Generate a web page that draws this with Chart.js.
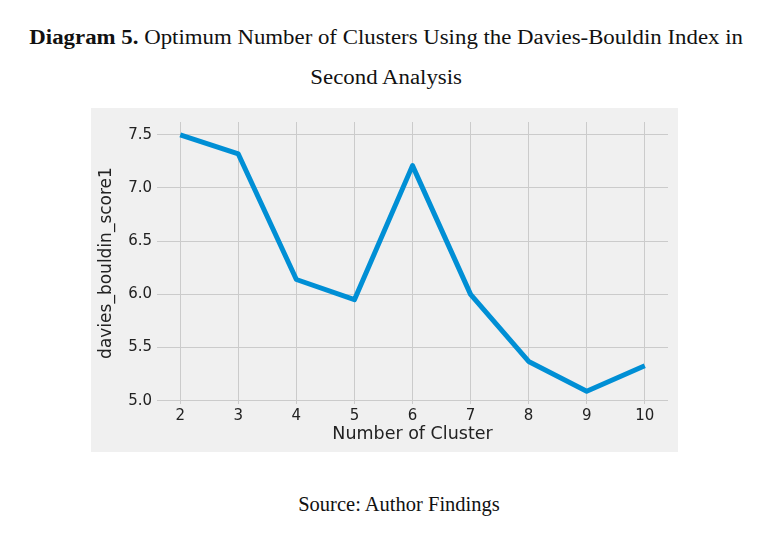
<!DOCTYPE html>
<html>
<head>
<meta charset="utf-8">
<script src="https://cdn.jsdelivr.net/npm/chart.js@4.4.0/dist/chart.umd.min.js"></script>
<style>
  body { margin: 0; background: #fff; width: 781px; height: 548px; position: relative; overflow: hidden; }
  .caption { position: absolute; left: 0; width: 781px; text-align: center; font-family: "Liberation Serif", "Times New Roman", serif; font-size: 20.5px; color: #111; white-space: nowrap; }
  .wide { transform: scaleX(1.114); transform-origin: 385px 0; left: -5.5px; }
  #panel { position: absolute; left: 91px; top: 108px; width: 587px; height: 344px; background: #f0f0f0; }
</style>
</head>
<body>
<div class="caption wide" style="top: 26px;"><b>Diagram 5.</b> Optimum Number of Clusters Using the Davies-Bouldin Index in</div>
<div class="caption wide" style="top: 66px;">Second Analysis</div>
<div id="panel"><canvas id="db-chart"></canvas></div>
<div class="caption" style="top: 493px; left: 8.5px;">Source: Author Findings</div>

<script>
// Davies-Bouldin score for each number of clusters
const clusters = [2, 3, 4, 5, 6, 7, 8, 9, 10];
const dbScores = [7.50, 7.32, 6.14, 5.95, 7.21, 6.00, 5.37, 5.09, 5.33];
const yTicks = [5.0, 5.5, 6.0, 6.5, 7.0, 7.5];

const ctx = document.getElementById("db-chart");

new Chart(ctx, {
  type: "line",
  data: {
    datasets: [
      {
        label: "davies_bouldin_score1",
        data: clusters.map((c, i) => ({ x: c, y: dbScores[i] })),
        borderColor: "#008fd5",
        borderWidth: 5,
        borderJoinStyle: "round",
        pointRadius: 0,
        tension: 0,
      },
    ],
  },
  options: {
    responsive: true,
    maintainAspectRatio: false,
    animation: false,
    layout: { padding: { top: 9, right: 10, left: 0, bottom: 0 } },
    plugins: {
      legend: { display: false },
      tooltip: { enabled: false },
    },
    scales: {
      x: {
        type: "linear",
        min: 1.6,
        max: 10.4,
        afterBuildTicks: (scale) => {
          scale.ticks = clusters.map((v) => ({ value: v }));
        },
        afterFit: (scale) => {
          scale.height = 48;
        },
        grid: { color: "#cbcbcb", lineWidth: 1, drawTicks: false },
        border: { display: false },
        ticks: {
          padding: 3,
          color: "#222",
          font: { family: "DejaVu Sans", size: 15 },
          callback: (v) => String(v),
        },
        title: {
          display: true,
          text: "Number of Cluster",
          color: "#222",
          padding: { top: 0, bottom: 7 },
          font: { family: "DejaVu Sans", size: 17.5 },
        },
      },
      y: {
        min: 4.97,
        max: 7.62,
        afterBuildTicks: (scale) => {
          scale.ticks = yTicks.map((v) => ({ value: v }));
        },
        afterFit: (scale) => {
          scale.width = 66;
        },
        grid: { color: "#cbcbcb", lineWidth: 1, drawTicks: false },
        border: { display: false },
        ticks: {
          padding: 5,
          color: "#222",
          font: { family: "DejaVu Sans", size: 15 },
          callback: (v) => v.toFixed(1),
        },
        title: {
          display: true,
          text: "davies_bouldin_score1",
          color: "#222",
          padding: { top: 5, bottom: 0 },
          font: { family: "DejaVu Sans", size: 17 },
        },
      },
    },
  },
});
</script>
</body>
</html>
